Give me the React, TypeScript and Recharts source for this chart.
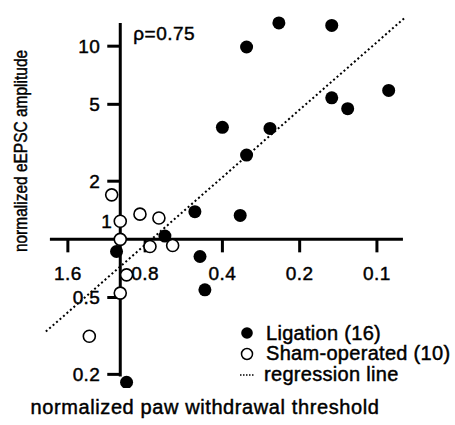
import React from 'react';
import { ScatterChart, Scatter, XAxis, YAxis, ReferenceLine, ReferenceDot } from 'recharts';

// paw withdrawal threshold (x) vs eEPSC amplitude (y), both normalized
const ligationX = [0.241, 0.15, 0.322, 0.09, 0.15, 0.13, 0.4, 0.261, 0.322, 0.341, 0.512, 0.67, 1.034, 0.489, 0.468, 0.945];
const ligationY = [13.2, 12.8, 9.9, 5.9, 5.4, 4.75, 3.8, 3.75, 2.73, 1.33, 1.39, 1.04, 0.865, 0.815, 0.548, 0.182];
const shamX = [1.08, 1.0, 0.838, 0.707, 1.0, 0.766, 0.625, 0.945, 1.0, 1.32];
const shamY = [1.7, 1.24, 1.35, 1.29, 1.0, 0.918, 0.929, 0.655, 0.527, 0.315];
const regressionX = [1.95, 0.078];
const regressionY = [0.333, 14.0];

const xTicks = [1.6, 0.8, 0.4, 0.2, 0.1];
const xTickLabels = ['1.6', '0.8', '0.4', '0.2', '0.1'];
const yTicks = [10, 5, 2, 1, 0.5, 0.2];
const yTickLabels = ['10', '5', '2', '1', '0.5', '0.2'];
const xAxisExtent = [1.88, 0.0792];
const yAxisExtent = [13.2, 0.195];

const legendLabels = ['Ligation (16)', 'Sham-operated (10)', 'regression line'];

const ligation = ligationX.map((x, i) => ({ x, y: ligationY[i] }));
const sham = shamX.map((x, i) => ({ x, y: shamY[i] }));
const regression = regressionX.map((x, i) => ({ x, y: regressionY[i] }));

const FONT = '"Liberation Sans", Arial, Helvetica, sans-serif';
// the scanned figure's type is a bit heavier than plain regular
const txt = { fontSize: 19, fontFamily: FONT, fill: '#000', stroke: '#000', strokeWidth: 0.45, letterSpacing: 0.4 };
const htmlHeavy: React.CSSProperties = { WebkitTextStroke: '0.45px #000', color: '#000', fontFamily: FONT };

const FilledDot = (p: any) => <circle cx={p.cx} cy={p.cy} r={6.5} fill="#000" />;
const OpenDot = (p: any) => <circle cx={p.cx} cy={p.cy} r={6} fill="#fff" stroke="#000" strokeWidth={1.6} />;
const NoDot = () => <g />;

function xTickShape(label: string) {
  return (p: any) => (
    <g>
      <line x1={p.cx} y1={p.cy} x2={p.cx} y2={p.cy + 13} stroke="#000" strokeWidth={3} />
      <text x={p.cx} y={p.cy + 41} textAnchor="middle" {...txt}>{label}</text>
    </g>
  );
}

function yTickShape(label: string) {
  return (p: any) => {
    if (label === '1') {
      // label sits above the horizontal axis
      return <text x={p.cx - 8} y={p.cy - 11} textAnchor="end" {...txt}>{label}</text>;
    }
    return (
      <g>
        <line x1={p.cx - 13} y1={p.cy} x2={p.cx} y2={p.cy} stroke="#000" strokeWidth={3} />
        <text x={p.cx - 20} y={p.cy + 7} textAnchor="end" {...txt}>{label}</text>
      </g>
    );
  };
}

const rhoShape = (p: any) => (
  <text x={p.cx + 13} y={p.cy + 17} {...txt} letterSpacing={0.5}>ρ=0.75</text>
);

function LegendBox() {
  const row: React.CSSProperties = { display: 'flex', alignItems: 'center', height: 20.5, whiteSpace: 'nowrap' };
  return (
    <div style={{ ...htmlHeavy, position: 'absolute', left: 238, top: 323, fontSize: 20, letterSpacing: 0.3 }}>
      <div style={row}>
        <svg width={28} height={16}><circle cx={9} cy={8} r={5.8} fill="#000" /></svg>
        <span>{legendLabels[0]}</span>
      </div>
      <div style={row}>
        <svg width={28} height={16}><circle cx={9} cy={8} r={5.5} fill="#fff" stroke="#000" strokeWidth={1.5} /></svg>
        <span>{legendLabels[1]}</span>
      </div>
      <div style={row}>
        <svg width={26} height={16}><line x1={2} y1={9} x2={17} y2={9} stroke="#000" strokeWidth={1.5} strokeDasharray="1.5 1.5" /></svg>
        <span>{legendLabels[2]}</span>
      </div>
    </div>
  );
}

export default function App() {
  return (
    <div style={{ position: 'absolute', left: 0, top: 0, width: 455, height: 425, background: '#fff' }}>
      <ScatterChart width={455} height={425} margin={{ top: 15, right: 46, bottom: 37, left: 43 }}>
        <XAxis type="number" dataKey="x" scale="log" domain={[0.075, 2]} reversed allowDataOverflow hide />
        <YAxis type="number" dataKey="y" scale="log" domain={[0.17, 14.5]} allowDataOverflow hide />

        <ReferenceLine segment={[{ x: xAxisExtent[0], y: 1 }, { x: xAxisExtent[1], y: 1 }]} stroke="#000" strokeWidth={3} />
        <ReferenceLine segment={[{ x: 1, y: yAxisExtent[0] }, { x: 1, y: yAxisExtent[1] }]} stroke="#000" strokeWidth={3} />
        {xTicks.map((t, i) => (
          <ReferenceDot key={'xt' + t} x={t} y={1} r={0} shape={xTickShape(xTickLabels[i])} />
        ))}
        {yTicks.map((t, i) => (
          <ReferenceDot key={'yt' + t} x={1} y={t} r={0} shape={yTickShape(yTickLabels[i])} />
        ))}
        <ReferenceDot x={1} y={yAxisExtent[0]} r={0} shape={rhoShape} />

        <Scatter data={regression} shape={NoDot} line={{ stroke: '#000', strokeWidth: 2, strokeDasharray: '2 2.6' }} isAnimationActive={false} legendType="none" />
        <Scatter data={ligation} shape={FilledDot} isAnimationActive={false} />
        <Scatter data={sham} shape={OpenDot} isAnimationActive={false} />
      </ScatterChart>
      <LegendBox />
      <div style={{ ...htmlHeavy, position: 'absolute', left: 0, width: 410, top: 396, textAlign: 'center', fontSize: 20, letterSpacing: 0.6, whiteSpace: 'nowrap' }}>
        normalized paw withdrawal threshold
      </div>
      <div style={{ ...htmlHeavy, position: 'absolute', left: 21, top: 151, transform: 'translate(-50%, -50%) rotate(-90deg) scaleX(0.86)', fontSize: 18, whiteSpace: 'nowrap' }}>
        normalized eEPSC amplitude
      </div>
    </div>
  );
}
